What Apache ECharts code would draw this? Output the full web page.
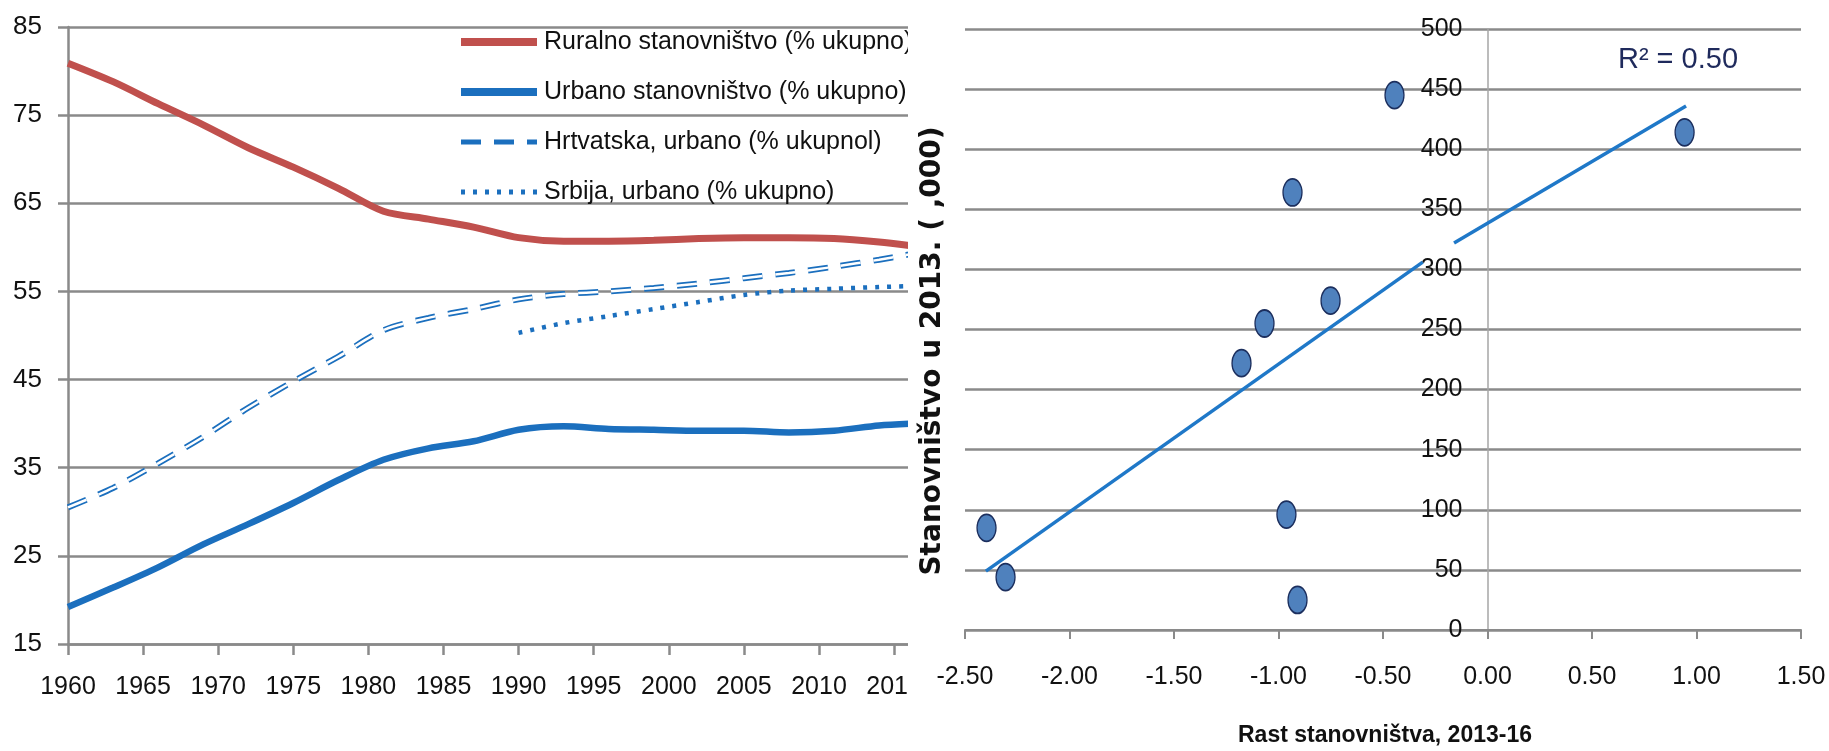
<!DOCTYPE html>
<html>
<head>
<meta charset="utf-8">
<script src="https://cdn.jsdelivr.net/npm/echarts@6/dist/echarts.min.js"></script>
<style>
  html, body { margin: 0; padding: 0; background: #ffffff; width: 1829px; height: 751px; overflow: hidden; }
  #leftClip { position: absolute; left: 0; top: 0; width: 908px; height: 751px; overflow: hidden; }
  #left { position: absolute; left: 0; top: 0; width: 1000px; height: 751px; }
  #right { position: absolute; left: 908px; top: 0; width: 921px; height: 751px; }
</style>
</head>
<body>
<div id="leftClip"><div id="left"></div></div>
<div id="right"></div>
<script>
// ---------- Left chart data ----------
const years = [1960, 1963, 1966, 1969, 1972, 1975, 1978, 1981, 1984, 1987, 1990, 1993, 1996, 1999, 2002, 2005, 2008, 2011, 2014, 2016];
const rural = [80.9, 78.8, 76.3, 73.9, 71.3, 69.1, 66.7, 64.1, 63.2, 62.3, 61.1, 60.7, 60.7, 60.8, 61.0, 61.1, 61.1, 61.0, 60.6, 60.2];
const urban = [19.2, 21.4, 23.7, 26.3, 28.6, 31.0, 33.6, 35.9, 37.2, 38.0, 39.3, 39.7, 39.4, 39.3, 39.2, 39.2, 39.0, 39.2, 39.8, 40.0];
const croatiaUrban = [30.5, 32.7, 35.5, 38.5, 41.8, 44.8, 47.6, 50.6, 52.0, 53.0, 54.1, 54.7, 55.0, 55.4, 55.9, 56.5, 57.1, 57.8, 58.6, 59.2];
const serbiaUrban = [null, null, null, null, null, null, null, null, null, null, 50.3, 51.4, 52.2, 53.0, 53.8, 54.6, 55.1, 55.3, 55.5, 55.6];
const seriesNames = ['Ruralno stanovništvo (% ukupno)', 'Urbano stanovništvo (% ukupno)', 'Hrtvatska, urbano (% ukupnol)', 'Srbija, urbano (% ukupno)'];

// ---------- Right chart data ----------
const growth = [-0.445, 0.943, -0.933, -0.751, -1.067, -1.177, -2.397, -2.306, -0.962, -0.909];
const population = [445, 414, 364, 274, 255, 222, 85, 44, 96, 25];
const trendAx = [-2.40, -0.31];
const trendAy = [49, 306];
const trendBx = [-0.16, 0.95];
const trendBy = [322, 436];
const r2Label = 'R² = 0.50';
const xTitle = 'Rast stanovništva, 2013-16';
const yTitle = 'Stanovništvo u 2013. ( ,000)';

const FONT = "'Liberation Sans', Arial, sans-serif";
const AXIS_GRAY = '#8a8a8a';
const RED = '#c0504d';
const BLUE = '#1b6fbe';

const pair = (xs, ys) => xs.map((x, i) => [x, ys[i]]);

// ---------- Left chart ----------
const left = echarts.init(document.getElementById('left'), null, { renderer: 'canvas' });
left.setOption({
  animation: false,
  backgroundColor: '#ffffff',
  grid: { left: 68, top: 27, width: 904, height: 617, containLabel: false },
  legend: {
    orient: 'vertical', left: 452, top: 22,
    itemWidth: 76, itemHeight: 14, itemGap: 20,
    selectedMode: false,
    itemStyle: { color: 'transparent', borderWidth: 0, opacity: 0 },
    data: [
      { name: seriesNames[0], lineStyle: { width: 8 } },
      { name: seriesNames[1], lineStyle: { width: 8 } },
      { name: seriesNames[2], lineStyle: { width: 5, type: [20, 13] } },
      { name: seriesNames[3], lineStyle: { width: 5, type: [4, 8] } }
    ],
    textStyle: { fontFamily: FONT, fontSize: 25, color: '#111', lineHeight: 30, padding: [0, 0, 0, 2] }
  },
  xAxis: {
    type: 'value', min: 1960, max: 2020, interval: 5,
    axisLine: { lineStyle: { color: AXIS_GRAY, width: 2.5 } },
    axisTick: { show: true, length: 11, lineStyle: { color: AXIS_GRAY, width: 2.5 } },
    axisLabel: { margin: 31, fontSize: 25, color: '#111', fontFamily: FONT, formatter: v => String(v) },
    splitLine: { show: false }
  },
  yAxis: {
    type: 'value', min: 15, max: 85, interval: 10,
    axisLine: { show: true, lineStyle: { color: AXIS_GRAY, width: 2.5 } },
    axisTick: { show: true, length: 10, lineStyle: { color: AXIS_GRAY, width: 2.5 } },
    axisLabel: { margin: 26, fontSize: 26, color: '#111', fontFamily: FONT },
    splitLine: { lineStyle: { color: AXIS_GRAY, width: 2.5 } }
  },
  series: [
    { name: seriesNames[0], type: 'line', data: pair(years, rural), smooth: 0.3, symbol: 'none',
      lineStyle: { color: RED, width: 7 }, itemStyle: { color: RED } },
    { name: seriesNames[1], type: 'line', data: pair(years, urban), smooth: 0.3, symbol: 'none',
      lineStyle: { color: BLUE, width: 6.5 }, itemStyle: { color: BLUE } },
    { name: seriesNames[2], type: 'line', data: pair(years, croatiaUrban), smooth: 0.3, symbol: 'none',
      lineStyle: { color: BLUE, width: 6, type: [20, 13] }, itemStyle: { color: BLUE } },
    { name: 'hr-inner', type: 'line', data: pair(years, croatiaUrban), smooth: 0.3, symbol: 'none',
      lineStyle: { color: '#ffffff', width: 2.5, type: [20, 13] }, z: 3 },
    { name: seriesNames[3], type: 'line', data: pair(years, serbiaUrban), smooth: 0.3, symbol: 'none',
      lineStyle: { color: BLUE, width: 4.5, type: [4, 8] }, itemStyle: { color: BLUE } }
  ]
});

// ---------- Right chart ----------
const right = echarts.init(document.getElementById('right'), null, { renderer: 'canvas' });
const gridW = 836;
right.setOption({
  animation: false,
  grid: { left: 57, top: 29, width: gridW, height: 601, containLabel: false },
  xAxis: {
    type: 'value', min: -2.5, max: 1.5, interval: 0.5,
    axisLine: { onZero: false, lineStyle: { color: AXIS_GRAY, width: 2 } },
    axisTick: { show: true, length: 9, lineStyle: { color: AXIS_GRAY, width: 2 } },
    axisLabel: { margin: 35, fontSize: 25, color: '#111', fontFamily: FONT, formatter: v => v.toFixed(2) },
    splitLine: { show: false }
  },
  yAxis: {
    type: 'value', min: 0, max: 500, interval: 50,
    offset: -gridW * 2.5 / 4,
    axisLine: { show: true, onZero: false, lineStyle: { color: '#a6a6a6', width: 1.5 } },
    axisTick: { show: false },
    axisLabel: { margin: 25, fontSize: 25, color: '#111', fontFamily: FONT },
    splitLine: { lineStyle: { color: AXIS_GRAY, width: 2.5 } }
  },
  graphic: [
    { type: 'text', x: 477, y: 736, style: { text: xTitle, fontFamily: FONT, fontWeight: 'bold', fontSize: 23, fill: '#111', align: 'center', verticalAlign: 'middle' } },
    { type: 'text', x: 25, y: 351, rotation: Math.PI / 2, style: { text: yTitle, fontFamily: "'DejaVu Sans', sans-serif", fontWeight: 'bold', fontSize: 28, fill: '#111', align: 'center', verticalAlign: 'middle' } },
    { type: 'text', x: 770, y: 60, style: { text: r2Label, fontFamily: FONT, fontSize: 29, fill: '#1f2a5c', align: 'center', verticalAlign: 'middle' } }
  ],
  series: [
    { type: 'line', data: pair(trendAx, trendAy), symbol: 'none', lineStyle: { color: '#1f78c8', width: 3.5 }, z: 2 },
    { type: 'line', data: pair(trendBx, trendBy), symbol: 'none', lineStyle: { color: '#1f78c8', width: 3.5 }, z: 2 },
    { type: 'scatter', data: pair(growth, population), symbol: 'circle', symbolSize: [19, 27],
      itemStyle: { color: '#4f81bd', borderColor: '#1c2f5e', borderWidth: 1.5, opacity: 1 }, z: 3 }
  ]
});
</script>
</body>
</html>
